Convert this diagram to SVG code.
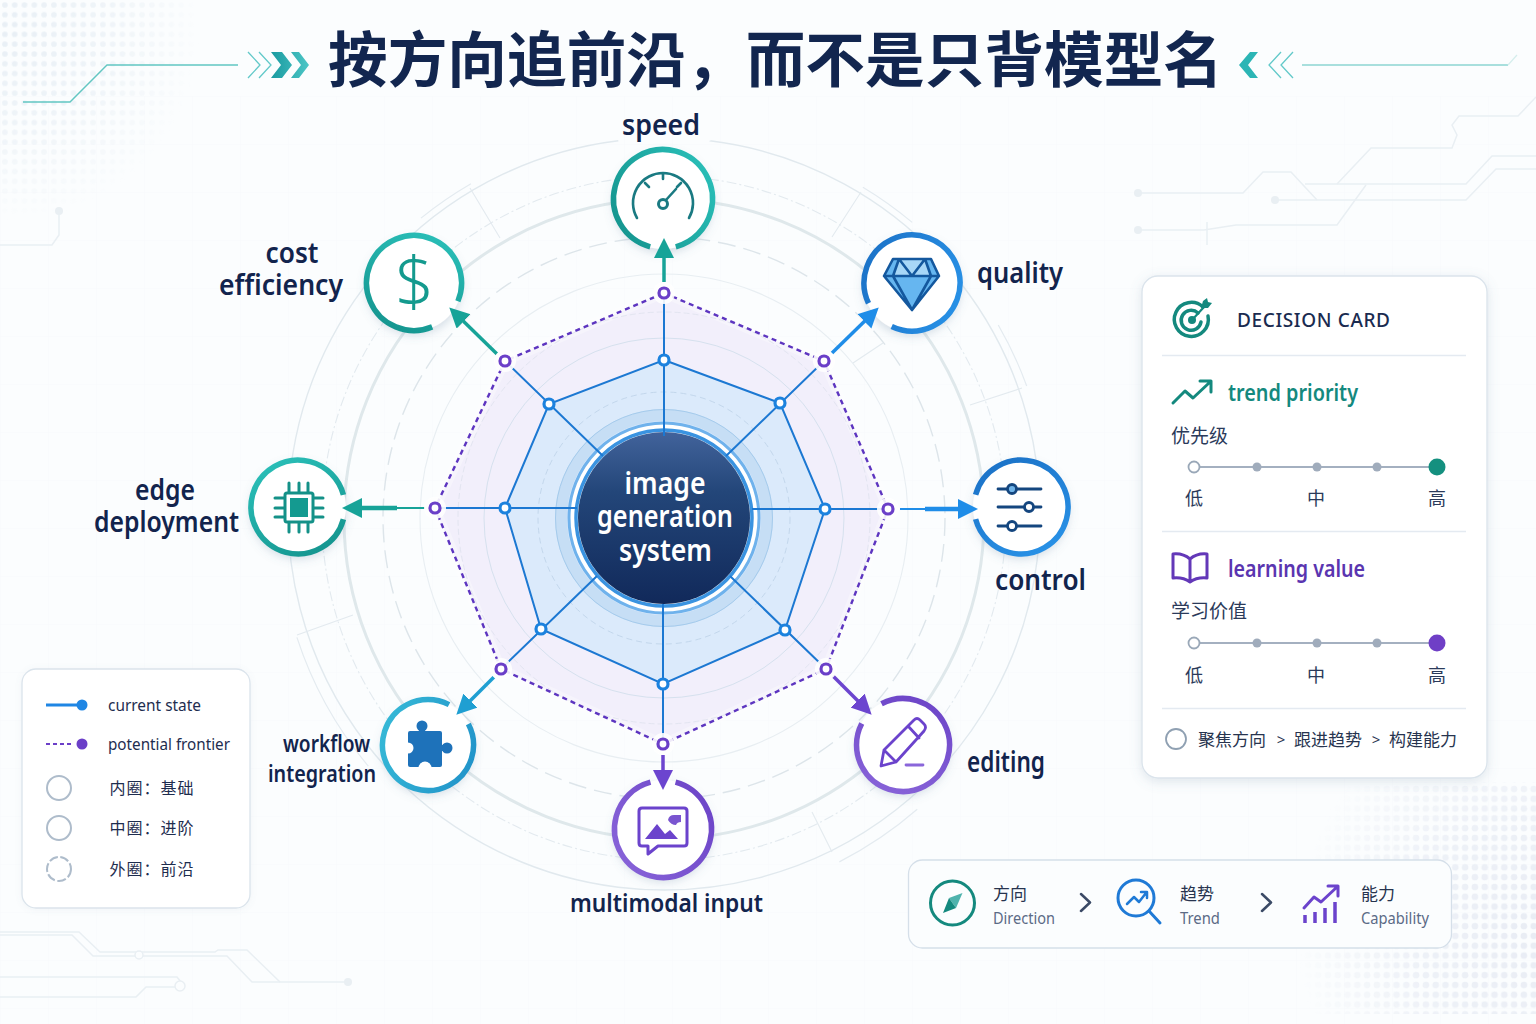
<svg xmlns="http://www.w3.org/2000/svg" width="1536" height="1024" viewBox="0 0 1536 1024">
<style>
text{font-family:"Noto Sans","Noto Sans CJK SC",sans-serif}
.cjk{font-family:"Noto Sans CJK SC","Noto Sans",sans-serif}
.lab{font-weight:600;fill:#12244d;font-size:28px}
.mid{text-anchor:middle}
.trace{fill:none;stroke:#e9eff3;stroke-width:1.5}
.tdot{fill:#e9eff3}
.halo{fill:#fff;filter:url(#sh)}
.nr{fill:none;stroke-width:5.5}
.ic{fill:none;stroke-linecap:round;stroke-linejoin:round}
.spoke{stroke:#1c78d2;stroke-width:2;fill:none}
.oh{fill:#fff;opacity:.9}
.on{fill:#fff;stroke:#6b3fc8;stroke-width:3.2}
.in{fill:#fff;stroke:#1c82de;stroke-width:3.2}
.card{fill:#fff;stroke:#dbe4ec;stroke-width:1.3}
.div{stroke:#e4eaf1;stroke-width:1.3}
.sl{stroke:#a4b0c0;stroke-width:2}
.sd{fill:#a0acbc}
.sm{font-size:18px;fill:#2b3a5a}
.lg{font-size:16px;fill:#1e2d4f}
.lc{fill:none;stroke:#aebccb;stroke-width:2}
.sub{font-size:15.5px;fill:#5b6b86}
.zh{font-size:17px;fill:#27344f}
</style>
<defs>
<filter id="sh" x="-30%" y="-30%" width="160%" height="160%"><feDropShadow dx="0" dy="4" stdDeviation="5" flood-color="#5a7a9a" flood-opacity=".25"/></filter>
<filter id="csh" x="-10%" y="-10%" width="120%" height="120%"><feDropShadow dx="0" dy="3" stdDeviation="6" flood-color="#6b84a0" flood-opacity=".2"/></filter>
<filter id="lsh" x="-10%" y="-10%" width="120%" height="120%"><feDropShadow dx="0" dy="1" stdDeviation="3" flood-color="#6b84a0" flood-opacity=".08"/></filter>
<linearGradient id="disc" x1="0" y1="0" x2="0" y2="1"><stop offset="0" stop-color="#42639b"/><stop offset=".35" stop-color="#234679"/><stop offset="1" stop-color="#11295a"/></linearGradient>
<linearGradient id="gTeal" x1="0" y1="0" x2="1" y2="1"><stop offset="0" stop-color="#2cc3bc"/><stop offset="1" stop-color="#12908a"/></linearGradient>
<linearGradient id="gBlue" x1="0" y1="0" x2="1" y2="1"><stop offset="0" stop-color="#2a95ea"/><stop offset="1" stop-color="#1a6fc4"/></linearGradient>
<linearGradient id="gCyan" x1="0" y1="0" x2="1" y2="1"><stop offset="0" stop-color="#38bdd8"/><stop offset="1" stop-color="#1f8fc8"/></linearGradient>
<linearGradient id="gPur" x1="0" y1="0" x2="1" y2="1"><stop offset="0" stop-color="#8a66da"/><stop offset="1" stop-color="#6a42c6"/></linearGradient>
<linearGradient id="gPz" x1="0" y1="0" x2="1" y2="1"><stop offset="0" stop-color="#1684c4"/><stop offset="1" stop-color="#2a62ae"/></linearGradient>
<linearGradient id="gChev" x1="0" y1="0" x2="1" y2="0"><stop offset="0" stop-color="#1a9aa0"/><stop offset="1" stop-color="#4cc6c6"/></linearGradient>
<pattern id="dots" width="9.8" height="9.8" patternUnits="userSpaceOnUse"><circle cx="4.9" cy="4.9" r="2.8" fill="#e8eff5"/></pattern>
<pattern id="dots2" width="9.8" height="9.8" patternUnits="userSpaceOnUse"><circle cx="4.9" cy="4.9" r="3.3" fill="#e8ecf4"/></pattern>
<pattern id="grid" width="48" height="48" patternUnits="userSpaceOnUse"><path d="M48 0H0V48" fill="none" stroke="#f3f6f9" stroke-width="1"/></pattern>
<radialGradient id="fadeA" gradientUnits="userSpaceOnUse" cx="10" cy="30" r="190"><stop offset="0" stop-color="#fff"/><stop offset=".5" stop-color="#aaa"/><stop offset="1" stop-color="#000"/></radialGradient>
<radialGradient id="fadeB" gradientUnits="userSpaceOnUse" cx="1536" cy="930" r="240"><stop offset="0" stop-color="#fff"/><stop offset=".5" stop-color="#bbb"/><stop offset="1" stop-color="#000"/></radialGradient>
<mask id="mA"><rect width="300" height="260" fill="url(#fadeA)"/></mask>
<mask id="mB"><rect x="1280" y="760" width="256" height="264" fill="url(#fadeB)"/></mask>
<marker id="aTeal" markerUnits="userSpaceOnUse" markerWidth="22" markerHeight="22" refX="12" refY="10" orient="auto"><path d="M0 0L20 10L0 20z" fill="#17a398"/></marker>
<marker id="aBlue" markerUnits="userSpaceOnUse" markerWidth="22" markerHeight="22" refX="12" refY="10" orient="auto"><path d="M0 0L20 10L0 20z" fill="#1f8de8"/></marker>
<marker id="aCyan" markerUnits="userSpaceOnUse" markerWidth="22" markerHeight="22" refX="12" refY="10" orient="auto"><path d="M0 0L20 10L0 20z" fill="#1f9fd2"/></marker>
<marker id="aPur" markerUnits="userSpaceOnUse" markerWidth="22" markerHeight="22" refX="12" refY="10" orient="auto"><path d="M0 0L20 10L0 20z" fill="#6c45cf"/></marker>
</defs>

<g id="background">
<rect width="1536" height="1024" fill="#fbfdfe"/>
<rect y="96" width="1536" height="928" fill="url(#grid)" opacity=".6"/>
<rect width="300" height="260" fill="url(#dots)" mask="url(#mA)"/>
<rect x="1300" y="782" width="236" height="232" fill="url(#dots2)" mask="url(#mB)"/>
<path class="trace" d="M1138 193H1243L1263 172H1291L1317 200"/>
<path class="trace" d="M1275 200H1466L1496 169H1536"/>
<path class="trace" d="M1305 184H1466L1492 156H1536"/>
<path class="trace" d="M1337 184L1371 148H1452L1457 135L1452 125L1459 116H1518L1536 97"/>
<path class="trace" d="M1138 230H1204L1236 225H1337L1366 185"/>
<path class="trace" d="M1207 222V245"/>
<circle class="tdot" cx="1138" cy="193" r="4"/><circle class="tdot" cx="1275" cy="200" r="4"/><circle class="tdot" cx="1138" cy="230" r="4"/>
<path class="trace" d="M59 211V235L52 245H0"/><circle class="tdot" cx="59" cy="211" r="4"/>
<path class="trace" d="M0 932H79L100 952H215L218 950H247L280 982H347"/>
<path class="trace" d="M0 935H72L93 956H227L252 982H280"/>
<path class="trace" d="M0 977H177L181 982"/>
<path class="trace" d="M0 997H136L146 987H175"/>
<circle cx="139" cy="955" r="4" fill="#fbfdfe" stroke="#e9eff3" stroke-width="1.5"/>
<circle cx="180" cy="986" r="5" fill="#fbfdfe" stroke="#e9eff3" stroke-width="1.5"/>
<circle class="tdot" cx="348" cy="982" r="4"/>
</g>

<g id="title">
<path d="M23 102H70L107 65H238" fill="none" stroke="#62c6c2" stroke-width="1.4"/>
<path d="M248 52L260 65L248 78M259 52L271 65L259 78" fill="none" stroke="#62c9c9" stroke-width="1.3"/>
<path d="M271 52H282L292 65L282 78H271L281 65zM291 52H299L309 65L299 78H291L301 65z" fill="url(#gChev)"/>
<text class="cjk" x="328" y="82" font-size="60" font-weight="700" fill="#12264f" textLength="895" lengthAdjust="spacingAndGlyphs">按方向追前沿，而不是只背模型名</text>
<path d="M1258 52H1250L1239 65L1250 78H1258L1248 65z" fill="#2cb5b5"/>
<path d="M1281 52L1269 65L1281 78M1293 52L1281 65L1293 78" fill="none" stroke="#62c9c9" stroke-width="1.3"/>
<path d="M1302 65H1508" fill="none" stroke="#8cd5d2" stroke-width="1.4"/>
<path d="M1508 65L1517 55" fill="none" stroke="#d5eeed" stroke-width="1.2"/>
</g>

<g id="radar-areas">
<polygon points="664,293 824,361 888,509 826,669 663,744 501,669 435,508 505,361" fill="#f2effb" stroke="#fff" stroke-width="10" stroke-opacity=".3"/>
<polygon points="664,360 780,403 825,509 785,630 663,684 541,629 505,508 549,404" fill="#dbeafb"/>
</g>

<g id="rings">
<circle cx="664" cy="514" r="376" fill="none" stroke="#e1e9ee" stroke-width="1.4" pathLength="360" stroke-dasharray="346 14" transform="rotate(-83 664 514)"/>
<circle cx="664" cy="518" r="386" fill="none" stroke="#e4ebf0" stroke-width="1.2" pathLength="360" stroke-dasharray="14 77 22 69 9 61 9 20 10 69" transform="rotate(49 664 518)"/>
<circle cx="664" cy="518" r="342" fill="none" stroke="#e3eaef" stroke-width="1.1" stroke-dasharray="10 3 2 3"/>
<circle cx="664" cy="519" r="320" fill="none" stroke="#dfe8eb" stroke-width="3"/>
<circle cx="664" cy="518" r="281" fill="none" stroke="#dde5ea" stroke-width="1.4" stroke-dasharray="18 8"/>
<circle cx="664" cy="518" r="244" fill="none" stroke="#e8eef2" stroke-width="1.1"/>
<circle cx="664" cy="518" r="206" fill="none" stroke="#e3e5f1" stroke-width="1" stroke-dasharray="6 3"/>
<circle cx="664" cy="518" r="180" fill="none" stroke="#d6e1ee" stroke-width="1"/>
<circle cx="664" cy="518" r="126" fill="none" stroke="#c3d7ec" stroke-width="1" stroke-dasharray="6 4"/>
<path d="M297 635L353 615M1022 388L970 405M832 852L812 812M470 188L500 238M861 192L832 237M853 363L883 343" fill="none" stroke="#e3eaef" stroke-width="1.1"/>
</g>

<g id="center-rings">
<circle cx="664" cy="518" r="103" fill="none" stroke="#c6def5" stroke-width="12"/>
<circle cx="664" cy="518" r="108.500" fill="none" stroke="#a5cbec" stroke-width="1"/>
<circle cx="664" cy="518" r="95" fill="#fff" stroke="#6fb2ec" stroke-width="3"/>
<circle cx="664" cy="518" r="88" fill="none" stroke="#3a93e0" stroke-width="3.5"/>
</g>

<g id="node-center">
<circle cx="664" cy="518" r="86" fill="url(#disc)"/>
<text class="mid" x="665" y="494" font-size="30" font-weight="600" fill="#fff" textLength="81" lengthAdjust="spacingAndGlyphs">image</text>
<text class="mid" x="665" y="527" font-size="30" font-weight="600" fill="#fff" textLength="136" lengthAdjust="spacingAndGlyphs">generation</text>
<text class="mid" x="665.500" y="561" font-size="30" font-weight="600" fill="#fff" textLength="93" lengthAdjust="spacingAndGlyphs">system</text>
</g>

<g id="node-speed">
<circle class="halo" cx="663" cy="199" r="50"/>
<circle class="nr" cx="663" cy="199" r="49.500" stroke="url(#gTeal)" pathLength="360" stroke-dasharray="330 30" transform="rotate(105 663 199)"/>
<path class="ic" stroke="#1a7a82" stroke-width="2.600" d="M637 218A30 30 0 1 1 689 218M663 173V179M645 183L649 187M681 183L677 187M666 200L676 189"/>
<circle cx="663" cy="204" r="4.500" fill="#fff" stroke="#1a7a82" stroke-width="3"/>
<text class="lab mid" x="661" y="135" textLength="78" lengthAdjust="spacingAndGlyphs">speed</text>
</g>

<g id="node-cost">
<circle class="halo" cx="414" cy="283" r="48"/>
<circle class="nr" cx="414" cy="283" r="47.500" stroke="url(#gTeal)" pathLength="360" stroke-dasharray="315 45" transform="rotate(67.500 414 283)"/>
<text class="mid" x="414.500" y="306" font-size="68" font-weight="300" fill="#149a8e">$</text>
<text class="lab mid" x="292" y="263" textLength="53" lengthAdjust="spacingAndGlyphs">cost</text>
<text class="lab mid" x="281" y="295" textLength="124" lengthAdjust="spacingAndGlyphs">efficiency</text>
</g>

<g id="node-quality">
<circle class="halo" cx="912" cy="283" r="49"/>
<circle class="nr" cx="912" cy="283" r="48" stroke="url(#gBlue)" pathLength="360" stroke-dasharray="320 40" transform="rotate(155 912 283)"/>
<path d="M893 259H931L939 276L912 310L884 276z" fill="#66b6f0"/>
<path d="M899 259H925L931 276H893z" fill="#a8d7f7"/>
<path class="ic" stroke="#14589e" stroke-width="2.600" d="M893 259H931L939 276L912 310L884 276zM884 276H939M899 259L893 276L912 310L931 276L925 259M899 259L912 276L925 259"/>
<text class="lab" x="977" y="283" textLength="86" lengthAdjust="spacingAndGlyphs">quality</text>
</g>

<g id="node-edge">
<circle class="halo" cx="298" cy="507" r="48"/>
<circle class="nr" cx="298" cy="507" r="47" stroke="url(#gTeal)" pathLength="360" stroke-dasharray="330 30" transform="rotate(15 298 507)"/>
<rect x="285" y="493" width="28" height="29" rx="2" fill="#fff" stroke="#149188" stroke-width="3"/>
<rect x="290" y="498" width="18" height="19" fill="#149a90"/>
<path class="ic" stroke="#149188" stroke-width="3" d="M289 483V492M299 483V492M308 483V492M289 523V532M299 523V532M308 523V532M275 498H284M275 508H284M275 517H284M314 498H323M314 508H323M314 517H323"/>
<text class="lab mid" x="165" y="500" textLength="60" lengthAdjust="spacingAndGlyphs">edge</text>
<text class="lab mid" x="166.500" y="532" textLength="145" lengthAdjust="spacingAndGlyphs">deployment</text>
</g>

<g id="node-control">
<circle class="halo" cx="1021" cy="507" r="48"/>
<circle class="nr" cx="1021" cy="507" r="47" stroke="url(#gBlue)" pathLength="360" stroke-dasharray="330 30" transform="rotate(195 1021 507)"/>
<path class="ic" stroke="#14467f" stroke-width="2.800" d="M998 489H1041M998 507H1041M998 526H1041"/>
<circle cx="1012" cy="489" r="4.500" fill="#6fb3e8" stroke="#14467f" stroke-width="2.800"/>
<circle cx="1029" cy="507" r="4.500" fill="#fff" stroke="#14467f" stroke-width="2.800"/>
<circle cx="1012" cy="526" r="4.500" fill="#fff" stroke="#14467f" stroke-width="2.800"/>
<text class="lab" x="995" y="590" textLength="91" lengthAdjust="spacingAndGlyphs">control</text>
</g>

<g id="node-workflow">
<circle class="halo" cx="428" cy="745" r="46"/>
<circle class="nr" cx="428" cy="745" r="45.500" stroke="url(#gCyan)" pathLength="360" stroke-dasharray="325 35" transform="rotate(-27.500 428 745)"/>
<g fill="#1e72ba">
<circle cx="422" cy="726" r="5.500"/><rect x="419" y="726" width="6" height="6"/>
<rect x="408" y="731" width="34" height="36" rx="2"/>
<circle cx="447" cy="748" r="5.500"/><rect x="441" y="745" width="6" height="6"/>
</g>
<circle cx="408" cy="748" r="5.500" fill="#fff"/><circle cx="425" cy="768" r="6.500" fill="#fff"/>
<text class="lab mid" x="326.500" y="752" style="font-size:24px" textLength="87" lengthAdjust="spacingAndGlyphs">workflow</text>
<text class="lab mid" x="322" y="782" style="font-size:24px" textLength="108" lengthAdjust="spacingAndGlyphs">integration</text>
</g>

<g id="node-editing">
<circle class="halo" cx="903" cy="745" r="47"/>
<circle class="nr" cx="903" cy="745" r="46.500" stroke="url(#gPur)" pathLength="360" stroke-dasharray="325 35" transform="rotate(-117.500 903 745)"/>
<path class="ic" stroke="#6b43cc" stroke-width="2.800" d="M881 766L884 750L914 720Q917 717 920 720L924 724Q927 727 924 731L896 762zM884 750L896 762M908 726L919 738"/>
<path class="ic" stroke="#8a66da" stroke-width="2.800" d="M906 765H923"/>
<text class="lab" x="967" y="772" textLength="78" lengthAdjust="spacingAndGlyphs">editing</text>
</g>

<g id="node-multimodal">
<circle class="halo" cx="663" cy="829" r="49"/>
<circle class="nr" cx="663" cy="829" r="48.500" stroke="url(#gPur)" pathLength="360" stroke-dasharray="330 30" transform="rotate(-75 663 829)"/>
<path class="ic" stroke="#6b43cc" stroke-width="3" d="M642 808H684Q687 808 687 811V843Q687 846 684 846H658L648 854V846H642Q639 846 639 843V811Q639 808 642 808z"/>
<path d="M645 839L657 824L665 834L670 830L678 839z" fill="#6b43cc"/>
<path d="M668 820Q669 815 674 815H681V822Q677 822 676 825Q671 825 668 820z" fill="#7a55d0"/>
<text class="lab mid" x="666.500" y="912" style="font-size:26px" textLength="193" lengthAdjust="spacingAndGlyphs">multimodal input</text>
</g>

<g id="connectors" fill="none">
<path class="spoke" d="M664 293V436M824 361L726 456M888 509H752M826 669L730 576M663 744V604M501 669L597 576M435 508H577M505 361L603 456"/>
<polygon points="664,360 780,403 825,509 785,630 663,684 541,629 505,508 549,404" class="spoke"/>
<polygon points="664,293 824,361 888,509 826,669 663,744 501,669 435,508 505,361" fill="none" stroke="#5d35c0" stroke-width="2.400" stroke-dasharray="5 4"/>
<path d="M664 282V246" stroke="#17a398" stroke-width="3.500" marker-end="url(#aTeal)"/>
<path d="M497 354L455 313" stroke="#17a398" stroke-width="3.500" marker-end="url(#aTeal)"/>
<path d="M832 353L873 313" stroke="#1f8de8" stroke-width="3.500" marker-end="url(#aBlue)"/>
<path d="M900 509H925" stroke="#1f8de8" stroke-width="2"/>
<path d="M925 509H970" stroke="#1f8de8" stroke-width="4.500" marker-end="url(#aBlue)"/>
<path d="M425 508H397" stroke="#17a398" stroke-width="2"/>
<path d="M397 508H350" stroke="#17a398" stroke-width="4.500" marker-end="url(#aTeal)"/>
<path d="M494 677L462 709" stroke="#1f9fd2" stroke-width="3.500" marker-end="url(#aCyan)"/>
<path d="M833 676L866 709" stroke="#6c45cf" stroke-width="3.500" marker-end="url(#aPur)"/>
<path d="M663 755V782" stroke="#6c45cf" stroke-width="3.500" marker-end="url(#aPur)"/>
</g>

<g id="radar-points">
<g class="oh"><circle cx="664" cy="293" r="11"/><circle cx="824" cy="361" r="11"/><circle cx="888" cy="509" r="11"/><circle cx="826" cy="669" r="11"/><circle cx="663" cy="744" r="11"/><circle cx="501" cy="669" r="11"/><circle cx="435" cy="508" r="11"/><circle cx="505" cy="361" r="11"/></g>
<g class="on"><circle cx="664" cy="293" r="5"/><circle cx="824" cy="361" r="5"/><circle cx="888" cy="509" r="5"/><circle cx="826" cy="669" r="5"/><circle cx="663" cy="744" r="5"/><circle cx="501" cy="669" r="5"/><circle cx="435" cy="508" r="5"/><circle cx="505" cy="361" r="5"/></g>
<g class="in"><circle cx="664" cy="360" r="5"/><circle cx="780" cy="403" r="5"/><circle cx="825" cy="509" r="5"/><circle cx="785" cy="630" r="5"/><circle cx="663" cy="684" r="5"/><circle cx="541" cy="629" r="5"/><circle cx="505" cy="508" r="5"/><circle cx="549" cy="404" r="5"/></g>
</g>

<g id="legend">
<rect class="card" x="22" y="669" width="228" height="239" rx="14" filter="url(#lsh)"/>
<path d="M46 705H80" stroke="#1f86e4" stroke-width="3"/><circle cx="82" cy="705" r="5.500" fill="#1f86e4"/>
<text class="lg" x="108" y="711" textLength="93" lengthAdjust="spacingAndGlyphs">current state</text>
<path d="M46 744H74" stroke="#6b3fc8" stroke-width="2" stroke-dasharray="4 3"/><circle cx="82" cy="744" r="5.500" fill="#6b3fc8"/>
<text class="lg" x="108" y="750" textLength="122" lengthAdjust="spacingAndGlyphs">potential frontier</text>
<circle class="lc" cx="59" cy="788" r="12"/><text class="lg cjk" x="109.500" y="794" textLength="84">内圈：基础</text>
<circle class="lc" cx="59" cy="828" r="12"/><text class="lg cjk" x="109.500" y="834" textLength="84">中圈：进阶</text>
<circle class="lc" cx="59" cy="869" r="12" stroke-dasharray="9 2.500"/><text class="lg cjk" x="109.500" y="875" textLength="84">外圈：前沿</text>
</g>

<g id="decision-card">
<rect class="card" x="1142" y="276" width="345" height="502" rx="16" filter="url(#csh)"/>
<path class="ic" stroke="#14897e" stroke-width="3.500" d="M1203 307A17 17 0 1 0 1208 316M1198 313A10 10 0 1 0 1201 322"/>
<circle cx="1192" cy="320" r="4" fill="#14897e"/>
<path class="ic" stroke="#14897e" stroke-width="2.200" d="M1192 320L1204 307"/>
<path d="M1201 308L1203 301L1207 298L1208 302L1212 303L1208 308z" fill="#14897e"/>
<text x="1237" y="327" font-size="19" font-weight="500" fill="#1a2b50" textLength="153">DECISION CARD</text>
<path class="div" d="M1162 355.500H1466M1162 531.500H1466M1162 708.500H1466"/>
<path class="ic" stroke="#14897e" stroke-width="3" d="M1173 403L1185 391L1193 398L1209 383M1200 381H1211V392"/>
<text x="1228" y="401" font-size="23" font-weight="600" fill="#14897e" textLength="130" lengthAdjust="spacingAndGlyphs">trend priority</text>
<text class="sm cjk" x="1171" y="443" style="font-size:19px">优先级</text>
<path class="sl" d="M1200 467H1430"/>
<circle cx="1194" cy="467" r="5.500" fill="#fff" stroke="#9aa8b8" stroke-width="1.800"/>
<circle class="sd" cx="1257" cy="467" r="4.500"/><circle class="sd" cx="1317" cy="467" r="4.500"/><circle class="sd" cx="1377" cy="467" r="4.500"/>
<circle cx="1437" cy="467" r="8.500" fill="#14907f"/>
<text class="sm cjk mid" x="1194" y="505">低</text><text class="sm cjk mid" x="1316" y="505">中</text><text class="sm cjk mid" x="1437" y="505">高</text>
<path class="ic" stroke="#6338b8" stroke-width="3" d="M1190 559Q1183 553 1173 554V578Q1183 577 1190 582Q1197 577 1207 578V554Q1197 553 1190 559V582"/>
<text x="1228" y="577" font-size="23" font-weight="600" fill="#5a35b0" textLength="137" lengthAdjust="spacingAndGlyphs">learning value</text>
<text class="sm cjk" x="1171" y="618" style="font-size:19px">学习价值</text>
<path class="sl" d="M1200 643H1430"/>
<circle cx="1194" cy="643" r="5.500" fill="#fff" stroke="#9aa8b8" stroke-width="1.800"/>
<circle class="sd" cx="1257" cy="643" r="4.500"/><circle class="sd" cx="1317" cy="643" r="4.500"/><circle class="sd" cx="1377" cy="643" r="4.500"/>
<circle cx="1437" cy="643" r="8.500" fill="#6f3fc6"/>
<text class="sm cjk mid" x="1194" y="682">低</text><text class="sm cjk mid" x="1316" y="682">中</text><text class="sm cjk mid" x="1437" y="682">高</text>
<circle cx="1176" cy="739" r="10" fill="none" stroke="#8fa0b2" stroke-width="1.800"/>
<text class="zh cjk" x="1198" y="746">聚焦方向</text><text class="zh mid" x="1281" y="745" style="font-size:15px">&gt;</text><text class="zh cjk" x="1294" y="746">跟进趋势</text><text class="zh mid" x="1376" y="745" style="font-size:15px">&gt;</text><text class="zh cjk" x="1389" y="746">构建能力</text>
</g>

<g id="path-card">
<rect x="908.500" y="860" width="543" height="88" rx="14" fill="#fbfdfe" stroke="#d5dfe9" stroke-width="1.300"/>
<circle cx="952.500" cy="903" r="22" fill="none" stroke="#14897e" stroke-width="3"/>
<path d="M962.500 893L956 908L949 898z" fill="#4fb3ad"/><path d="M943 913L956 908L949 898z" fill="#14897e"/>
<text class="zh cjk" x="993" y="900">方向</text><text class="sub" x="993" y="924" textLength="62" lengthAdjust="spacingAndGlyphs">Direction</text>
<path class="ic" stroke="#3b4a66" stroke-width="2.500" d="M1081 894L1090 902.500L1081 911M1262 894L1271 902.500L1262 911"/>
<circle cx="1136" cy="898" r="18" fill="none" stroke="#1f7ad6" stroke-width="3"/>
<path class="ic" stroke="#1f7ad6" stroke-width="3" d="M1149 911L1160 923"/>
<path class="ic" stroke="#1f7ad6" stroke-width="2.500" d="M1127 904L1134 897L1139 902L1146 893M1141 892H1147V898"/>
<text class="zh cjk" x="1180" y="900">趋势</text><text class="sub" x="1180" y="924" textLength="40" lengthAdjust="spacingAndGlyphs">Trend</text>
<path stroke="#6b43cc" stroke-width="3.500" d="M1305 923V915M1315 923V912M1325 923V908M1335 923V902"/>
<path class="ic" stroke="#6b43cc" stroke-width="3" d="M1304 908L1314 897L1321 902L1337 887M1328 886H1338V896"/>
<text class="zh cjk" x="1361" y="900">能力</text><text class="sub" x="1361" y="924" textLength="68" lengthAdjust="spacingAndGlyphs">Capability</text>
</g>
</svg>
